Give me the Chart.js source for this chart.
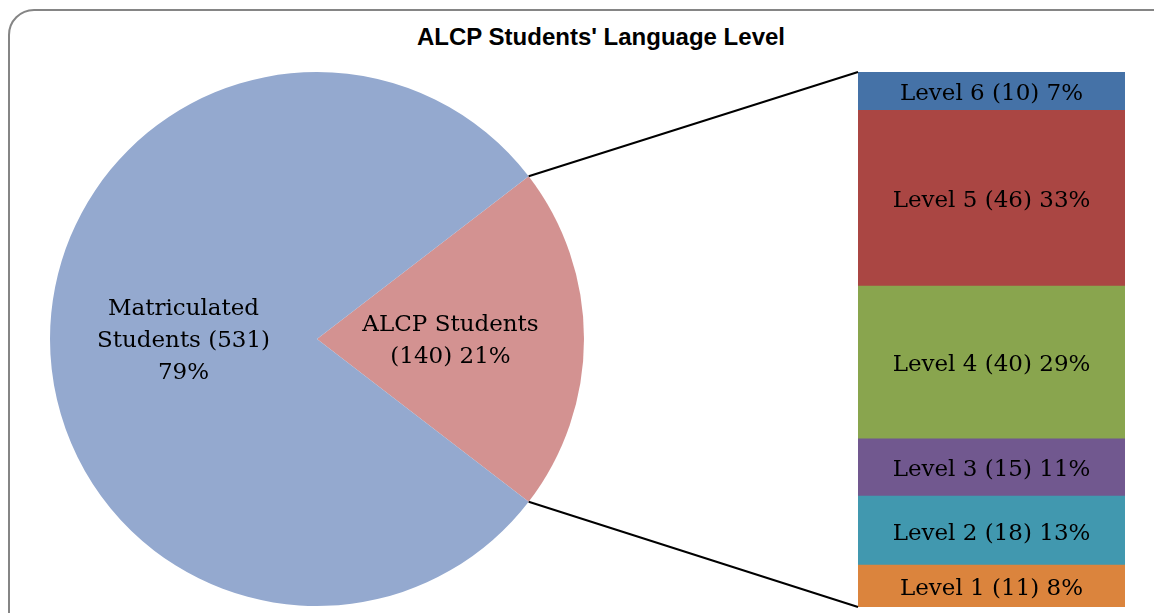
<!DOCTYPE html>
<html>
<head>
<meta charset="utf-8">
<script src="https://cdn.jsdelivr.net/npm/chart.js@4.4.1/dist/chart.umd.min.js"></script>
<style>
  html, body { margin:0; padding:0; background:#fff; width:1154px; height:613px; overflow:hidden; }
  #frame { position:absolute; left:8px; top:9px; width:1175px; height:630px; border:2px solid #858585; border-radius:26px; box-sizing:border-box; }
  #title { position:absolute; left:0; width:1202px; top:23px; text-align:center; font-family:"Liberation Sans", Arial, sans-serif; font-weight:bold; font-size:24px; color:#000; }
  canvas { position:absolute; }
  #pieC { left:0; top:0; }
  #barC { left:858px; top:72px; }
  #lineC { left:0; top:0; pointer-events:none; }
</style>
</head>
<body>
<div id="frame"></div>
<div id="title">ALCP Students' Language Level</div>
<canvas id="pieC" width="600" height="613" style="width:600px;height:613px"></canvas>
<canvas id="barC" width="267" height="535" style="width:267px;height:535px"></canvas>
<canvas id="lineC" width="1154" height="613" style="width:1154px;height:613px"></canvas>
<script>
// ---- data ----
const pieLabels = ["ALCP Students", "Matriculated Students"];
const pieValues = [140, 531];
const pieColors = ["#d39291", "#94a9cf"];

const levelLabels = ["Level 1", "Level 2", "Level 3", "Level 4", "Level 5", "Level 6"];
const levelValues = [11, 18, 15, 40, 46, 10];
const levelColors = ["#db843d", "#4198af", "#71588f", "#89a54e", "#aa4643", "#4572a7"];

const labelFont = '23px "DejaVu Serif", "Liberation Serif", serif';

const pieTotal = pieValues.reduce((a, b) => a + b, 0);
const levelTotal = levelValues.reduce((a, b) => a + b, 0);
const pct = (v, t) => Math.round(v / t * 100) + "%";

// pie labels as lines
const pieText = [
  ["ALCP Students", "(" + pieValues[0] + ") " + pct(pieValues[0], pieTotal)],
  ["Matriculated", "Students (" + pieValues[1] + ")", pct(pieValues[1], pieTotal)]
];

const pieLabelPlugin = {
  id: 'pieLabels',
  afterDatasetsDraw(chart) {
    const ctx = chart.ctx;
    const meta = chart.getDatasetMeta(0);
    ctx.save();
    ctx.font = labelFont;
    ctx.fillStyle = "#000";
    ctx.textAlign = "center";
    ctx.textBaseline = "middle";
    meta.data.forEach((arc, i) => {
      const p = arc.getCenterPoint();
      const lines = pieText[i];
      const lh = 32;
      const y0 = p.y - (lines.length - 1) * lh / 2 + 2;
      lines.forEach((t, k) => ctx.fillText(t, p.x, y0 + k * lh));
    });
    ctx.restore();
  }
};

const alcpAngle = pieValues[0] / pieTotal * 360;

const pieChart = new Chart(document.getElementById('pieC'), {
  type: 'pie',
  data: {
    labels: pieLabels,
    datasets: [{ data: pieValues, backgroundColor: pieColors, borderWidth: 0 }]
  },
  options: {
    responsive: false,
    animation: false,
    rotation: 90 - alcpAngle / 2,
    layout: { padding: { left: 50, top: 72, right: 16, bottom: 7 } },
    plugins: { legend: { display: false }, tooltip: { enabled: false }, title: { display: false } }
  },
  plugins: [pieLabelPlugin]
});

const barLabelPlugin = {
  id: 'barLabels',
  afterDatasetsDraw(chart) {
    const ctx = chart.ctx;
    ctx.save();
    ctx.font = labelFont;
    ctx.fillStyle = "#000";
    ctx.textAlign = "center";
    ctx.textBaseline = "middle";
    chart.data.datasets.forEach((ds, i) => {
      const el = chart.getDatasetMeta(i).data[0];
      const cy = (el.y + el.base) / 2 + 3;
      ctx.fillText(levelLabels[i] + " (" + levelValues[i] + ") " + pct(levelValues[i], levelTotal), el.x, cy);
    });
    ctx.restore();
  }
};

const barChart = new Chart(document.getElementById('barC'), {
  type: 'bar',
  data: {
    labels: [""],
    datasets: levelLabels.map((l, i) => ({
      label: l, data: [levelValues[i]], backgroundColor: levelColors[i], borderWidth: 0,
      barPercentage: 1, categoryPercentage: 1
    }))
  },
  options: {
    responsive: false,
    animation: false,
    layout: { padding: 0 },
    scales: {
      x: { stacked: true, display: false },
      y: { stacked: true, display: false, min: 0, max: levelTotal }
    },
    plugins: { legend: { display: false }, tooltip: { enabled: false } }
  },
  plugins: [barLabelPlugin]
});

// connector lines computed from both charts' geometry
(function drawConnectors() {
  const arc = pieChart.getDatasetMeta(0).data[0];
  const r = arc.outerRadius;
  const p1 = { x: arc.x + r * Math.cos(arc.startAngle), y: arc.y + r * Math.sin(arc.startAngle) };
  const p2 = { x: arc.x + r * Math.cos(arc.endAngle), y: arc.y + r * Math.sin(arc.endAngle) };
  const barCanvas = document.getElementById('barC');
  const ox = barCanvas.offsetLeft, oy = barCanvas.offsetTop;
  const topEl = barChart.getDatasetMeta(levelValues.length - 1).data[0];
  const botEl = barChart.getDatasetMeta(0).data[0];
  const left = ox + topEl.x - topEl.width / 2;
  const q1 = { x: left, y: oy + topEl.y };
  const q2 = { x: left, y: oy + botEl.base };
  const ctx = document.getElementById('lineC').getContext('2d');
  ctx.strokeStyle = "#000";
  ctx.lineWidth = 2;
  ctx.beginPath();
  ctx.moveTo(p1.x, p1.y); ctx.lineTo(q1.x, q1.y);
  ctx.moveTo(p2.x, p2.y); ctx.lineTo(q2.x, q2.y);
  ctx.stroke();
})();
</script>
</body>
</html>
